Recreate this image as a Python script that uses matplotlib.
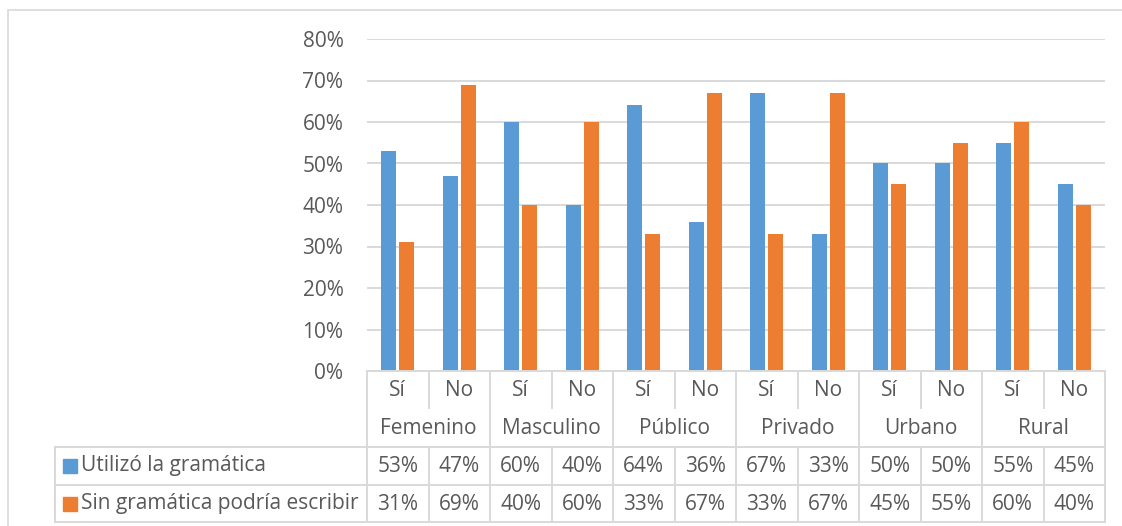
import matplotlib.pyplot as plt
from matplotlib.lines import Line2D
from matplotlib.patches import Rectangle
import numpy as np

groups = ["Femenino", "Masculino", "Público", "Privado", "Urbano", "Rural"]
answers = ["Sí", "No"] * 6
series_names = ["Utilizó la gramática", "Sin gramática podría escribir"]
utilizo = [53, 47, 60, 40, 64, 36, 67, 33, 50, 50, 55, 45]
sin_gram = [31, 69, 40, 60, 33, 67, 33, 67, 45, 55, 60, 40]
yticks = [0, 10, 20, 30, 40, 50, 60, 70, 80]

W, H = 1122, 526
BLUE = "#5B9BD5"
ORANGE = "#ED7D31"
TXT = "#595959"
GRID = "#D9D9D9"
FS = 15

plt.rcParams['font.family'] = ['Open Sans', 'DejaVu Sans']


def fx(x):
    return x / W


def fy(y):
    return 1 - y / H


def hline(fig, x0, x1, y, lw=1.4):
    fig.add_artist(Line2D([fx(x0), fx(x1)], [fy(y), fy(y)], color=GRID, lw=lw,
                          transform=fig.transFigure))


def vline(fig, x, y0, y1, lw=1.4):
    fig.add_artist(Line2D([fx(x), fx(x)], [fy(y0), fy(y1)], color=GRID, lw=lw,
                          transform=fig.transFigure))


fig = plt.figure(figsize=(W / 100, H / 100), dpi=100)
fig.patch.set_facecolor('white')

# outer chart border
fig.add_artist(Rectangle((fx(8), fy(530)), fx(1125) - fx(8), fy(10) - fy(530),
                         fill=False, edgecolor=GRID, lw=1.2, transform=fig.transFigure))

L, R, T, B = 367, 1105, 39, 371
ax = fig.add_axes([fx(L), fy(B), fx(R) - fx(L), fy(T) - fy(B)])

n = len(answers)
x = np.arange(n)
bw = 0.245
gap = 0.05
ax.bar(x - (bw + gap) / 2, utilizo, width=bw, color=BLUE, zorder=3)
ax.bar(x + (bw + gap) / 2, sin_gram, width=bw, color=ORANGE, zorder=3)

ax.set_xlim(-0.5, n - 0.5)
ax.set_ylim(0, 80)
ax.set_yticks(yticks)
ax.set_yticklabels([f"{v}%" for v in yticks], color=TXT, fontsize=FS)
ax.tick_params(axis='y', length=0, pad=17)
ax.set_xticks([])
ax.yaxis.grid(True, color=GRID, lw=1.4)
ax.set_axisbelow(True)
for s in ax.spines.values():
    s.set_visible(False)

# data table
cw = (R - L) / n
rows = [371, 409, 447, 485, 522]
hline(fig, L, R, rows[0])
hline(fig, 55, R, rows[2])
hline(fig, 55, R, rows[3])
hline(fig, 55, R, rows[4])
vline(fig, 55, rows[2], rows[4])
for k in range(n + 1):
    xx = L + k * cw
    if k % 2 == 0:
        vline(fig, xx, rows[0], rows[4])
    else:
        vline(fig, xx, rows[0], rows[1] - 1)
        vline(fig, xx, rows[2], rows[4])

for i, a in enumerate(answers):
    cx = L + (i + 0.5) * cw
    fig.text(fx(cx), fy(390), a, ha='center', va='center', color=TXT, fontsize=FS)
    fig.text(fx(cx), fy(466), f"{utilizo[i]}%", ha='center', va='center', color=TXT, fontsize=FS)
    fig.text(fx(cx), fy(504), f"{sin_gram[i]}%", ha='center', va='center', color=TXT, fontsize=FS)
for j, g in enumerate(groups):
    cx = L + (2 * j + 1) * cw
    fig.text(fx(cx), fy(428), g, ha='center', va='center', color=TXT, fontsize=FS)

for name, col, yc in [(series_names[0], BLUE, 466), (series_names[1], ORANGE, 504)]:
    fig.add_artist(Rectangle((fx(63), fy(yc + 7)), fx(14), fy(0) - fy(14),
                             color=col, transform=fig.transFigure))
    fig.text(fx(81), fy(yc), name, ha='left', va='center', color=TXT, fontsize=FS)

fig.savefig("out.png", dpi=100)
